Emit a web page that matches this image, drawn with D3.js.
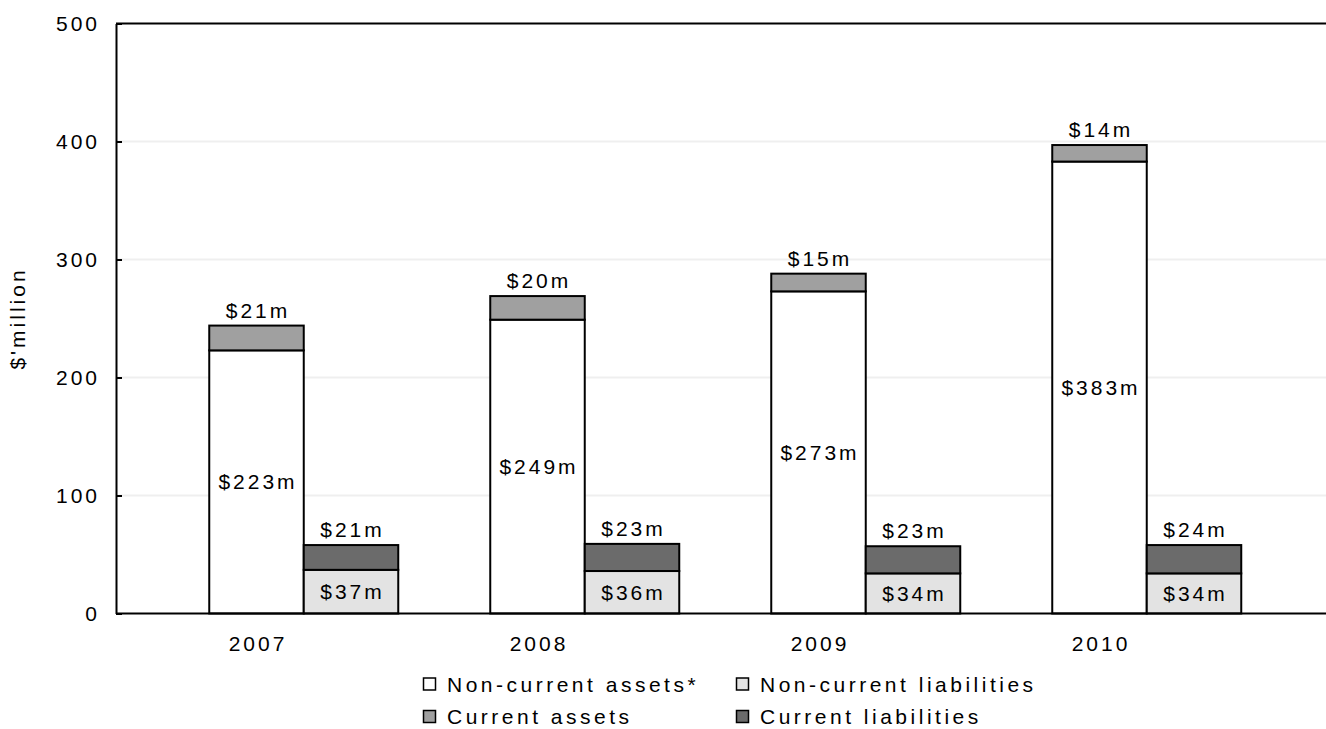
<!DOCTYPE html>
<html>
<head>
<meta charset="utf-8">
<script src="https://cdn.jsdelivr.net/npm/d3@7"></script>
<style>
  body { margin: 0; background: #fff; }
  text { font-family: "Liberation Sans", Arial, sans-serif; fill: #000; }
</style>
</head>
<body>
<script>
// data ($ million)
const years = ["2007", "2008", "2009", "2010"];
const nonCurrentAssets = [223, 249, 273, 383];
const currentAssets = [21, 20, 15, 14];
const nonCurrentLiabilities = [37, 36, 34, 34];
const currentLiabilities = [21, 23, 23, 24];
const yTicks = [0, 100, 200, 300, 400, 500];
const legendNames = ["Non-current assets*", "Non-current liabilities", "Current assets", "Current liabilities"];

const W = 1326, H = 729;
const plotLeft = 116, plotRight = 1240, plotTop = 23.5, plotBottom = 613.5;
const barW = 94.5;
const fontSize = 21;
const colors = {nca: "#ffffff", ca: "#a0a0a0", ncl: "#e3e3e3", cl: "#6b6b6b"};

var svg = d3.select("body").append("svg")
    .attr("width", W)
    .attr("height", H);

var xScale = d3.scaleBand().domain(years).range([plotLeft, plotRight]).padding(0);
var yScale = d3.scaleLinear().domain([0, 500]).range([plotBottom, plotTop]);

// light gridlines
svg.append("g").selectAll("line")
    .data(yTicks.filter(d => d > 0 && d < 500))
    .enter().append("line")
    .attr("x1", plotLeft).attr("x2", W)
    .attr("y1", d => yScale(d)).attr("y2", d => yScale(d))
    .attr("stroke", "#efefef").attr("stroke-width", 2);

// top border
svg.append("line")
    .attr("x1", plotLeft).attr("x2", W)
    .attr("y1", yScale(500)).attr("y2", yScale(500))
    .attr("stroke", "#000").attr("stroke-width", 2);

// y axis, ticks point inwards
var yAxis = d3.axisLeft(yScale).tickValues(yTicks).tickSizeInner(-6).tickSizeOuter(0).tickPadding(16);
var gy = svg.append("g")
    .attr("transform", "translate(" + plotLeft + ",0)")
    .call(yAxis);
gy.select(".domain").attr("stroke", "#000").attr("stroke-width", 2);
gy.selectAll(".tick line").attr("stroke", "#000").attr("stroke-width", 2);
gy.selectAll(".tick text")
    .style("font-size", fontSize + "px")
    .style("letter-spacing", "3px")
    .attr("fill", "#000");

// x axis labels
var xAxis = d3.axisBottom(xScale).tickSize(0).tickPadding(23);
var gx = svg.append("g")
    .attr("transform", "translate(0," + plotBottom + ")")
    .call(xAxis);
gx.select(".domain").remove();
gx.selectAll(".tick text")
    .style("font-size", fontSize + "px")
    .style("letter-spacing", "3px")
    .attr("dx", "1.5px")
    .attr("fill", "#000");

// y title
svg.append("text")
    .attr("transform", "translate(25," + ((plotTop + plotBottom) / 2) + ") rotate(-90)")
    .attr("text-anchor", "middle")
    .style("font-size", fontSize + "px")
    .style("letter-spacing", "3px")
    .text("$'million");

// stacked bars
function center(i) { return xScale(years[i]) + xScale.bandwidth() / 2; }

var rows = years.map(function(y, i) {
    return {
        i: i,
        segs: [
            {x: center(i) - barW / 2, y0: 0, y1: nonCurrentAssets[i], fill: colors.nca},
            {x: center(i) - barW / 2, y0: nonCurrentAssets[i], y1: nonCurrentAssets[i] + currentAssets[i], fill: colors.ca},
            {x: center(i) + barW / 2, y0: 0, y1: nonCurrentLiabilities[i], fill: colors.ncl},
            {x: center(i) + barW / 2, y0: nonCurrentLiabilities[i], y1: nonCurrentLiabilities[i] + currentLiabilities[i], fill: colors.cl}
        ]
    };
});

var allSegs = [].concat.apply([], rows.map(r => r.segs));
svg.append("g").selectAll("rect")
    .data(allSegs)
    .enter().append("rect")
    .attr("x", d => d.x)
    .attr("y", d => yScale(d.y1))
    .attr("width", barW)
    .attr("height", d => yScale(d.y0) - yScale(d.y1))
    .attr("fill", d => d.fill)
    .attr("stroke", "#000")
    .attr("stroke-width", 2);

// value labels
var labels = [];
years.forEach(function(y, i) {
    var ax = center(i), lx = center(i) + barW;
    labels.push({x: ax, y: yScale(nonCurrentAssets[i] / 2), dy: "0.35em", t: "$" + nonCurrentAssets[i] + "m"});
    labels.push({x: ax, y: yScale(nonCurrentAssets[i] + currentAssets[i]) - 8, dy: "0", t: "$" + currentAssets[i] + "m"});
    labels.push({x: lx, y: yScale(nonCurrentLiabilities[i] / 2), dy: "0.35em", t: "$" + nonCurrentLiabilities[i] + "m"});
    labels.push({x: lx, y: yScale(nonCurrentLiabilities[i] + currentLiabilities[i]) - 8, dy: "0", t: "$" + currentLiabilities[i] + "m"});
});
svg.append("g").selectAll("text")
    .data(labels)
    .enter().append("text")
    .attr("x", d => d.x + 1.5)
    .attr("y", d => d.y)
    .attr("dy", d => d.dy)
    .attr("text-anchor", "middle")
    .style("font-size", fontSize + "px")
    .style("letter-spacing", "3px")
    .text(d => d.t);

// x axis line, drawn over bar bottoms
svg.append("line")
    .attr("x1", plotLeft).attr("x2", W)
    .attr("y1", plotBottom).attr("y2", plotBottom)
    .attr("stroke", "#000").attr("stroke-width", 2);

// legend
var legendFills = [colors.nca, colors.ncl, colors.ca, colors.cl];
var legendX = [423, 736], legendY = [684, 716.5];
var lg = svg.append("g").selectAll("g")
    .data(legendNames)
    .enter().append("g")
    .attr("transform", (d, i) => "translate(" + legendX[i % 2] + "," + legendY[Math.floor(i / 2)] + ")");
lg.append("rect")
    .attr("x", 0.5).attr("y", -6)
    .attr("width", 12).attr("height", 12)
    .attr("fill", (d, i) => legendFills[i])
    .attr("stroke", "#000").attr("stroke-width", 1.5);
lg.append("text")
    .attr("x", 24)
    .attr("dy", "0.36em")
    .style("font-size", fontSize + "px")
    .style("letter-spacing", "3.5px")
    .text(d => d);
</script>
</body>
</html>
